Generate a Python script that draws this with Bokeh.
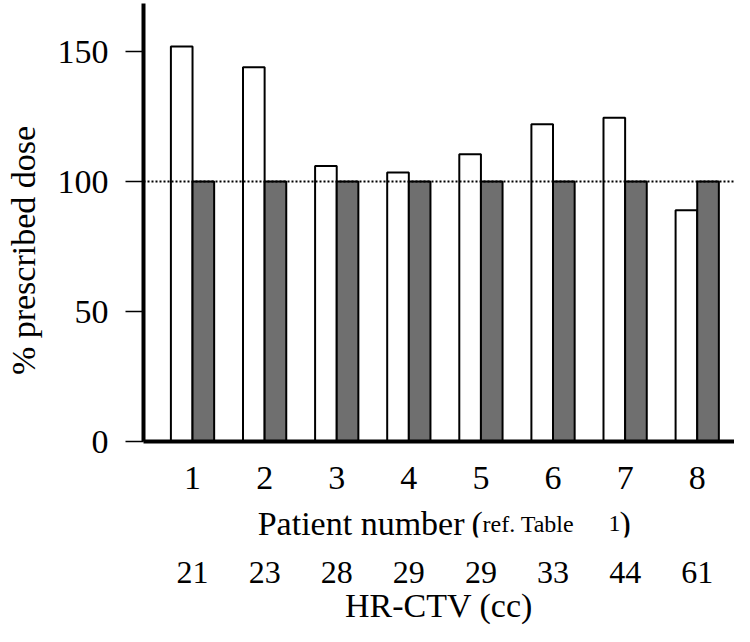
import math
from bokeh.plotting import figure
from bokeh.layouts import column, row
from bokeh.models import ColumnDataSource, FixedTicker, Span, Range1d
from bokeh.core.properties import value
from bokeh.transform import dodge
from bokeh.embed import file_html
from bokeh.resources import INLINE

# ---- data ----
patients = [1, 2, 3, 4, 5, 6, 7, 8]
hr_ctv_cc = [21, 23, 28, 29, 29, 33, 44, 61]
white_dose = [152, 144, 106, 103.5, 110.5, 122, 124.5, 89]
gray_dose = [100, 100, 100, 100, 100, 100, 100, 100]
y_ticks = [0, 50, 100, 150]
reference_level = 100

FONT = "Liberation Serif"
BIG = "34px"

WL = 46                 # width of the strip holding the y-axis title
W = 734 - WL
H1, H2 = 505, 121
BL, BR, BT, BB = 143 - WL, 0, 3, 64
X0, X1 = 0.32, 8.517
Y0, Y1 = 0, 168.5

def blank(fig):
    fig.outline_line_color = None
    fig.xgrid.visible = False
    fig.ygrid.visible = False
    fig.background_fill_color = "white"
    fig.border_fill_color = "white"

src = ColumnDataSource(dict(patient=patients, white=white_dose, gray=gray_dose))

p = figure(width=W, height=H1, output_backend="svg", toolbar_location=None,
           x_range=Range1d(X0, X1), y_range=Range1d(Y0, Y1),
           min_border_left=BL, min_border_right=BR, min_border_top=BT,
           min_border_bottom=BB)
blank(p)

p.vbar(x=dodge("patient", -0.15), top="white", width=0.3, bottom=0,
       fill_color="white", line_color="black", line_width=2, source=src)
p.vbar(x=dodge("patient", 0.15), top="gray", width=0.3, bottom=0,
       fill_color="#6f6f6f", line_color="black", line_width=2, source=src)

p.add_layout(Span(location=reference_level, dimension="width", line_color="black",
                  line_width=2, line_dash="2 2"))

# x axis (patient number)
xa = p.xaxis[0]
xa.ticker = FixedTicker(ticks=patients)
xa.major_label_overrides = {k: str(k) for k in patients}
xa.major_tick_line_color = None
xa.minor_tick_line_color = None
xa.axis_line_width = 4
xa.axis_line_color = "black"
xa.major_label_text_font = FONT
xa.major_label_text_font_size = BIG
xa.major_label_text_color = "black"
xa.major_label_standoff = 19

# y axis
ya = p.yaxis[0]
ya.ticker = FixedTicker(ticks=y_ticks)
ya.major_tick_out = 18
ya.major_tick_in = 0
ya.major_tick_line_width = 1.5
ya.major_tick_line_color = "black"
ya.minor_tick_line_color = None
ya.axis_line_width = 4
ya.axis_line_color = "black"
ya.major_label_text_font = FONT
ya.major_label_text_font_size = BIG
ya.major_label_text_color = "black"
ya.major_label_standoff = 17

# ---- left strip: y-axis title ----
HL = H1 + H2
pl = figure(width=WL, height=HL, output_backend="svg", toolbar_location=None,
            x_range=Range1d(0, WL), y_range=Range1d(0, HL),
            min_border=0, x_axis_location=None, y_axis_location=None)
blank(pl)
pl.text(x=[WL / 2], y=[HL - 250], text=["% prescribed dose"], text_font=value(FONT),
        text_font_size=BIG, text_align="center", text_baseline="middle",
        angle=math.pi / 2, text_color="black")

# ---- lower strip: "Patient number (ref. Table 1)", HR-CTV volumes ----
BB2 = 86
p2 = figure(width=W, height=H2, output_backend="svg", toolbar_location=None,
            x_range=p.x_range, y_range=Range1d(0, 1),
            min_border_left=BL, min_border_right=BR, min_border_top=0,
            min_border_bottom=BB2, y_axis_location=None)
blank(p2)

xb = p2.xaxis[0]
xb.ticker = FixedTicker(ticks=patients)
xb.major_label_overrides = {k: str(v) for k, v in zip(patients, hr_ctv_cc)}
xb.axis_line_color = None
xb.major_tick_line_color = None
xb.minor_tick_line_color = None
xb.major_label_standoff = 18
xb.major_label_text_font = FONT
xb.major_label_text_font_size = "32px"
xb.major_label_text_color = "black"
xb.axis_label = "HR-CTV (cc)"
xb.axis_label_standoff = 1
xb.axis_label_text_font = FONT
xb.axis_label_text_font_size = BIG
xb.axis_label_text_font_style = "normal"
xb.axis_label_text_color = "black"

frame_w = W - BL - BR
frame_h2 = H2 - BB2
def dx(px):     # px measured from the left edge of the whole picture
    return X0 + (px - 143) * (X1 - X0) / frame_w
def dy2(py):    # py measured from top of lower strip
    return (frame_h2 - py) / frame_h2

BASE = 20
pieces = [("Patient number", 464, BIG, "right"),
          ("(", 471, BIG, "left"),
          ("ref. Table", 482, "24px", "left"),
          ("1", 608, "24px", "left"),
          (")", 619, BIG, "left")]
for txt, xpx, size, align in pieces:
    p2.text(x=[dx(xpx)], y=[dy2(BASE)], text=[txt], text_font=value(FONT),
            text_font_size=size, text_align=align, text_baseline="alphabetic",
            text_color="black")

layout = row(pl, column(p, p2, spacing=0), spacing=0)
open("out.html", "w").write(file_html(layout, INLINE))
